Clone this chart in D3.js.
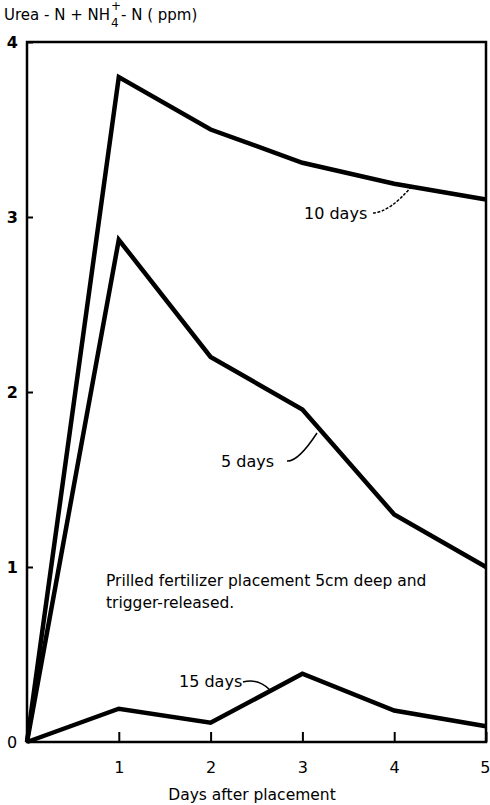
<!DOCTYPE html>
<html>
<head>
<meta charset="utf-8">
<script src="https://cdn.jsdelivr.net/npm/d3@7"></script>
<style>
  body { margin: 0; background: #fff; }
  text { font-family: "DejaVu Sans", sans-serif; fill: #000; }
</style>
</head>
<body>
<div id="chartArea"></div>
<script>
// data
var days = [0, 1, 2, 3, 4, 5];
var tenDays = [0, 3.8, 3.5, 3.31, 3.19, 3.1];
var fiveDays = [0, 2.87, 2.2, 1.9, 1.3, 1.0];
var fifteenDays = [0, 0.19, 0.11, 0.39, 0.18, 0.09];
var xTicks = [1, 2, 3, 4, 5];
var yTicks = [1, 2, 3, 4];

var width = 490, height = 805;
var margin = {top: 42, right: 4, bottom: 63, left: 27};

var x = d3.scaleLinear().domain([0, 5]).range([margin.left, width - margin.right]);
var y = d3.scaleLinear().domain([0, 4]).range([height - margin.bottom, margin.top]);

var svg = d3.select('#chartArea').append('svg')
    .attr('width', width)
    .attr('height', height);

// frame
svg.append('rect')
    .attr('x', x(0)).attr('y', y(4))
    .attr('width', x(5) - x(0)).attr('height', y(0) - y(4))
    .attr('fill', 'none').attr('stroke', '#000').attr('stroke-width', 2.5);

// x axis ticks (inward)
var xAxis = svg.append('g')
    .attr('transform', 'translate(0,' + y(0) + ')')
    .call(d3.axisBottom(x).tickValues(xTicks).tickFormat(d3.format('d'))
        .tickSizeInner(-10).tickSizeOuter(0).tickPadding(20));
xAxis.select('.domain').remove();
xAxis.selectAll('line').attr('stroke-width', 2);
xAxis.selectAll('text').attr('font-size', 16);
xAxis.selectAll('text').filter(function(d) { return d === 5; }).attr('text-anchor', 'end').attr('dx', 4);

// y axis ticks (inward)
var yAxis = svg.append('g')
    .attr('transform', 'translate(' + x(0) + ',0)')
    .call(d3.axisLeft(y).tickValues(yTicks).tickFormat(d3.format('d'))
        .tickSizeInner(-6).tickSizeOuter(0).tickPadding(9));
yAxis.select('.domain').remove();
yAxis.selectAll('line').attr('stroke-width', 2);
yAxis.selectAll('text').attr('font-size', 16).attr('font-weight', 'bold');

svg.append('text').attr('x', 7).attr('y', y(0) + 6)
    .attr('font-size', 16).text('0');

// lines
var line = d3.line().x(function(d, i) { return x(days[i]); }).y(function(d) { return y(d); });
[tenDays, fiveDays, fifteenDays].forEach(function(s) {
    svg.append('path').datum(s)
        .attr('d', line)
        .attr('fill', 'none')
        .attr('stroke', '#000')
        .attr('stroke-width', 4.5)
        .attr('stroke-linejoin', 'miter');
});

// y axis title, with NH4+ built from pieces
var t1 = svg.append('text').attr('x', 4).attr('y', 20).attr('font-size', 15).text('Urea - N + NH');
var xs = 4 + t1.node().getComputedTextLength() + 1;
var sub = svg.append('text').attr('x', xs).attr('y', 27).attr('font-size', 12).text('4');
svg.append('text').attr('x', xs).attr('y', 10).attr('font-size', 12).text('+');
svg.append('text').attr('x', xs + 10).attr('y', 20).attr('font-size', 15).text(' - N ( ppm)');

svg.append('text').attr('x', 252).attr('y', 800)
    .attr('text-anchor', 'middle').attr('font-size', 15.5)
    .text('Days after placement');

// annotations
svg.append('text').attr('x', 304).attr('y', 219).attr('font-size', 16).text('10 days');
svg.append('path').attr('d', 'M373,213 Q390,212 412,186')
    .attr('fill', 'none').attr('stroke', '#000').attr('stroke-width', 1.5).attr('stroke-dasharray', '3,1.5');

svg.append('text').attr('x', 221).attr('y', 467).attr('font-size', 16).text('5 days');
svg.append('path').attr('d', 'M287,461 Q298,462 317,433')
    .attr('fill', 'none').attr('stroke', '#000').attr('stroke-width', 1.5);

svg.append('text').attr('x', 179).attr('y', 687).attr('font-size', 16).text('15 days');
svg.append('path').attr('d', 'M243,682 Q258,678 270,690')
    .attr('fill', 'none').attr('stroke', '#000').attr('stroke-width', 1.5);

svg.append('text').attr('x', 106).attr('y', 586).attr('font-size', 15.5)
    .text('Prilled fertilizer placement 5cm deep and');
svg.append('text').attr('x', 106).attr('y', 608).attr('font-size', 15.5)
    .text('trigger-released.');
</script>
</body>
</html>
